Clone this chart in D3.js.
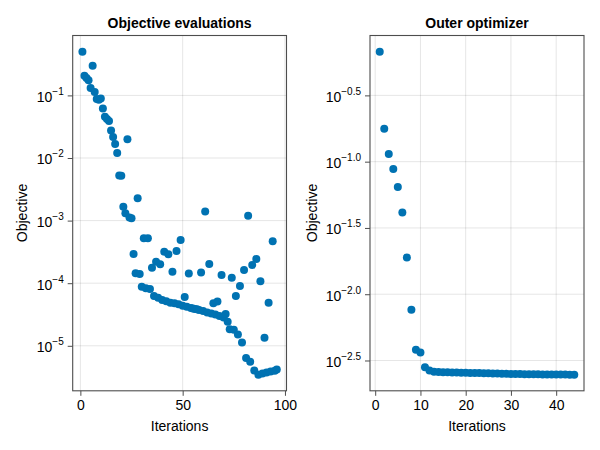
<!DOCTYPE html>
<html>
<head>
<meta charset="utf-8">
<script src="https://cdn.jsdelivr.net/npm/d3@7"></script>
<style>
  body { margin: 0; background: #fff; }
  text { font-family: "Liberation Sans", Arial, sans-serif; fill: #000; }
</style>
</head>
<body>
<div id="chart"></div>
<script>
// objective value at each evaluation (iteration 1..96)
var evalObjective = [
  0.50, 0.206, 0.190, 0.174, 0.131, 0.299, 0.113, 0.0875, 0.0853, 0.0895,
  0.0619, 0.0456, 0.0419, 0.0389, 0.0275, 0.0216, 0.0167, 0.0120, 0.00525, 0.00519,
  0.00166, 0.00131, 0.0199, 0.00112, 0.00109, 2.93e-4, 1.44e-4, 2.28e-3, 1.40e-4, 8.79e-5,
  5.23e-4, 8.28e-5, 5.23e-4, 8.07e-5, 1.77e-4, 6.24e-5, 2.21e-4, 5.86e-5, 2.01e-4, 5.38e-5,
  3.19e-4, 5.13e-5, 2.90e-4, 4.88e-5, 1.53e-4, 4.77e-5, 3.27e-4, 4.59e-5, 4.91e-4, 4.37e-5,
  6.01e-5, 4.21e-5, 1.43e-4, 4.01e-5, 3.94e-5, 3.87e-5, 3.82e-5, 3.72e-5, 1.48e-4, 3.59e-5,
  1.40e-3, 3.40e-5, 2.03e-4, 3.27e-5, 4.77e-5, 3.15e-5, 5.10e-5, 2.99e-5, 1.35e-4, 2.83e-5,
  3.21e-5, 2.42e-5, 1.83e-5, 1.22e-4, 1.81e-5, 6.24e-5, 1.52e-5, 9.02e-5, 1.13e-5, 1.63e-4,
  6.36e-6, 1.20e-3, 5.58e-6, 1.95e-4, 4.04e-6, 2.44e-4, 3.46e-6, 1.07e-4, 3.61e-6, 1.34e-5,
  3.73e-6, 4.88e-5, 3.87e-6, 4.68e-4, 4.01e-6, 4.19e-6
];

// outer optimizer objective (iteration 1..44)
var outerObjective = [
  0.676, 0.1774, 0.1143, 0.0881, 0.0644, 0.0414, 0.0189, 0.00764, 0.00381, 0.00363,
  0.00281, 0.00266, 0.00260, 0.002585, 0.00258, 0.002575, 0.00257, 0.002565, 0.00256, 0.002555,
  0.00255, 0.002545, 0.00254, 0.002535, 0.00253, 0.002525, 0.00252, 0.002515, 0.00251, 0.002505,
  0.0025, 0.002497, 0.002494, 0.002491, 0.002488, 0.002485, 0.002483, 0.002481, 0.002479, 0.002477,
  0.002476, 0.002475, 0.002474, 0.002473
];

var evalXTicks = [0, 50, 100];
var outerXTicks = [0, 10, 20, 30, 40];
var evalYExponents = [-5, -4, -3, -2, -1];
var outerYExponents = [-2.5, -2.0, -1.5, -1.0, -0.5];

var dotColor = "#0072b2";
var spineColor = "#4d4d4d";

var svg = d3.select("#chart").append("svg")
  .attr("width", 600)
  .attr("height", 450);

function minus(s) { return s.replace("-", "\u2212"); }

function drawPanel(values, left, width, title, xTicks, yExps, expFmt) {
  var top = 35.5, height = 355.3;
  var n = values.length;
  var mx = (n - 1) * 0.05;
  var x = d3.scaleLinear().domain([1 - mx, n + mx]).range([0, width]);

  var lo = d3.min(values, function(d) { return Math.log10(d); });
  var hi = d3.max(values, function(d) { return Math.log10(d); });
  var my = (hi - lo) * 0.05;
  var y = d3.scaleLog()
    .domain([Math.pow(10, lo - my), Math.pow(10, hi + my)])
    .range([height, 0]);

  var yTickVals = yExps.map(function(e) { return Math.pow(10, e); });

  var g = svg.append("g").attr("transform", "translate(" + left + "," + top + ")");

  // grid
  g.selectAll("line.gx").data(xTicks).enter().append("line")
    .attr("class", "gx")
    .attr("x1", function(d) { return x(d); })
    .attr("x2", function(d) { return x(d); })
    .attr("y1", 0).attr("y2", height)
    .attr("stroke", "#000").attr("stroke-opacity", 0.1);
  g.selectAll("line.gy").data(yTickVals).enter().append("line")
    .attr("class", "gy")
    .attr("y1", function(d) { return y(d); })
    .attr("y2", function(d) { return y(d); })
    .attr("x1", 0).attr("x2", width)
    .attr("stroke", "#000").attr("stroke-opacity", 0.1);

  // points
  g.selectAll("circle").data(values).enter().append("circle")
    .attr("cx", function(d, i) { return x(i + 1); })
    .attr("cy", function(d) { return y(d); })
    .attr("r", 4)
    .attr("fill", dotColor);

  // x axis
  var xAxis = g.append("g")
    .attr("transform", "translate(0," + height + ")")
    .call(d3.axisBottom(x).tickValues(xTicks).tickSize(5).tickPadding(4));
  xAxis.select(".domain").remove();
  xAxis.selectAll("line").attr("stroke", spineColor);
  xAxis.selectAll("text")
    .attr("font-size", 14)
    .attr("font-family", "Liberation Sans, Arial, sans-serif")
    .attr("fill", "#000");

  // y axis
  var yAxis = g.append("g")
    .call(d3.axisLeft(y).tickValues(yTickVals).tickSize(5).tickPadding(4)
      .tickFormat(function() { return ""; }));
  yAxis.select(".domain").remove();
  yAxis.selectAll("line").attr("stroke", spineColor);
  yAxis.selectAll("text")
    .attr("font-size", 14)
    .attr("font-family", "Liberation Sans, Arial, sans-serif")
    .attr("fill", "#000")
    .attr("dy", "0.42em")
    .each(function(d, i) {
      var t = d3.select(this);
      t.append("tspan").text("10");
      t.append("tspan").attr("font-size", 10).attr("dy", -7).text(minus(expFmt(yExps[i])));
    });

  // frame
  g.append("rect")
    .attr("width", width).attr("height", height)
    .attr("fill", "none")
    .attr("stroke", spineColor)
    .attr("stroke-width", 1.1);

  // title and labels
  g.append("text")
    .attr("x", width / 2).attr("y", -8)
    .attr("text-anchor", "middle")
    .attr("font-size", 14).attr("font-weight", "bold")
    .text(title);
  g.append("text")
    .attr("x", width / 2).attr("y", height + 40.5)
    .attr("text-anchor", "middle")
    .attr("font-size", 14)
    .text("Iterations");

  return g;
}

var g1 = drawPanel(evalObjective, 72.7, 213.8, "Objective evaluations",
  evalXTicks, evalYExponents, function(e) { return String(e); });
var g2 = drawPanel(outerObjective, 370, 214, "Outer optimizer",
  outerXTicks, outerYExponents, function(e) { return e.toFixed(1); });

svg.append("text")
  .attr("transform", "translate(27,213) rotate(-90)")
  .attr("text-anchor", "middle")
  .attr("font-size", 14)
  .text("Objective");
svg.append("text")
  .attr("transform", "translate(317,213) rotate(-90)")
  .attr("text-anchor", "middle")
  .attr("font-size", 14)
  .text("Objective");
</script>
</body>
</html>
